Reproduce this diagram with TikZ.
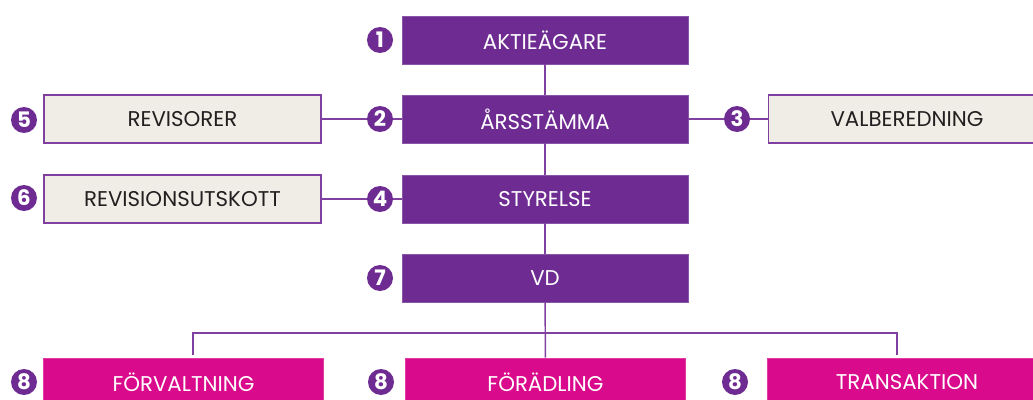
\documentclass[tikz,border=0pt]{standalone}
\usepackage{fontspec}
\setmainfont{Poppins}
\definecolor{orgpurple}{RGB}{110,43,145}
\definecolor{orgline}{RGB}{128,64,160}
\definecolor{orgmagenta}{RGB}{217,11,140}
\definecolor{orgbeige}{RGB}{240,237,230}
\definecolor{orgtext}{RGB}{35,31,32}

\tikzset{
	mainbox/.style={fill=orgpurple, draw=orgpurple!80!white, line width=0.6pt, text=white,
		minimum width=214.5pt, minimum height=36pt, inner sep=0pt, font=\fontsize{16}{18}\selectfont},
	sidebox/.style={fill=orgbeige, draw=orgline, line width=1pt, text=orgtext,
		minimum width=207.75pt, minimum height=36pt, inner sep=0pt, font=\fontsize{16}{18}\selectfont},
	unitbox/.style={fill=orgmagenta, draw=orgmagenta!80!white, line width=0.6pt, text=white,
		minimum width=210pt, minimum height=36pt, inner sep=0pt, font=\fontsize{16}{18}\selectfont},
	numdot/.style={circle, fill=orgpurple, text=white, minimum size=19.5pt, inner sep=0pt,
		font=\bfseries\fontsize{16}{18}\selectfont},
	link/.style={draw=orgline, line width=1.1pt}
}

\begin{document}
\begin{tikzpicture}[x=0.75pt,y=0.75pt,yscale=-1,xscale=1]
	\useasboundingbox (0,0) rectangle (1033,400);
	\clip (0,0) rectangle (1033,400);

	% Main column
	\node[mainbox] (aktie) at (545,40) {AKTIEÄGARE};
	\node[mainbox] (arsst) at (545,119) {ÅRSSTÄMMA};
	\node[mainbox] (styr) at (545,199) {STYRELSE};
	\node[mainbox] (vd) at (545,278) {VD};

	% Side boxes
	\node[sidebox] (revis) at (182.5,119) {REVISORER};
	\node[sidebox] (revut) at (182.5,199) {REVISIONSUTSKOTT};
	\node[sidebox] (valb) at (907,119) {VALBEREDNING};

	% Units
	\node[unitbox] (forv) at (183.5,382) {FÖRVALTNING};
	\node[unitbox] (fora) at (545.5,382) {FÖRÄDLING};
	\node[unitbox] (trans) at (907,382) {TRANSAKTION};

	% Numbers
	\node[numdot] (n1) at (380,40) {1};
	\node[numdot] (n2) at (380,119) {2};
	\node[numdot] (n3) at (737,119) {3};
	\node[numdot] (n4) at (380,199) {4};
	\node[numdot] (n5) at (24,120) {5};
	\node[numdot] (n6) at (24,198) {6};
	\node[numdot] (n7) at (380,278) {7};
	\node[numdot] (n8a) at (24,382) {8};
	\node[numdot] (n8b) at (381,382) {8};
	\node[numdot] (n8c) at (735,382) {8};

	% Connectors
	\draw[link] (aktie) -- (arsst);
	\draw[link] (arsst) -- (styr);
	\draw[link] (styr) -- (vd);
	\draw[link] (vd) -- (fora);
	\draw[link] (revis.east) -- (n2.west);
	\draw[link] (n2.east) -- (arsst.west);
	\draw[link] (arsst.east) -- (n3.west);
	\draw[link] (n3.east) -- (valb.west);
	\draw[link] (revut.east) -- (n4.west);
	\draw[link] (n4.east) -- (styr.west);

	% Branch to units
	\coordinate (bl) at (193,333);
	\coordinate (br) at (897,333);
	\draw[link] ([yshift=-2]bl |- forv.north) -- (bl) -- (br) -- ([yshift=-2]br |- trans.north);

\end{tikzpicture}
\end{document}
